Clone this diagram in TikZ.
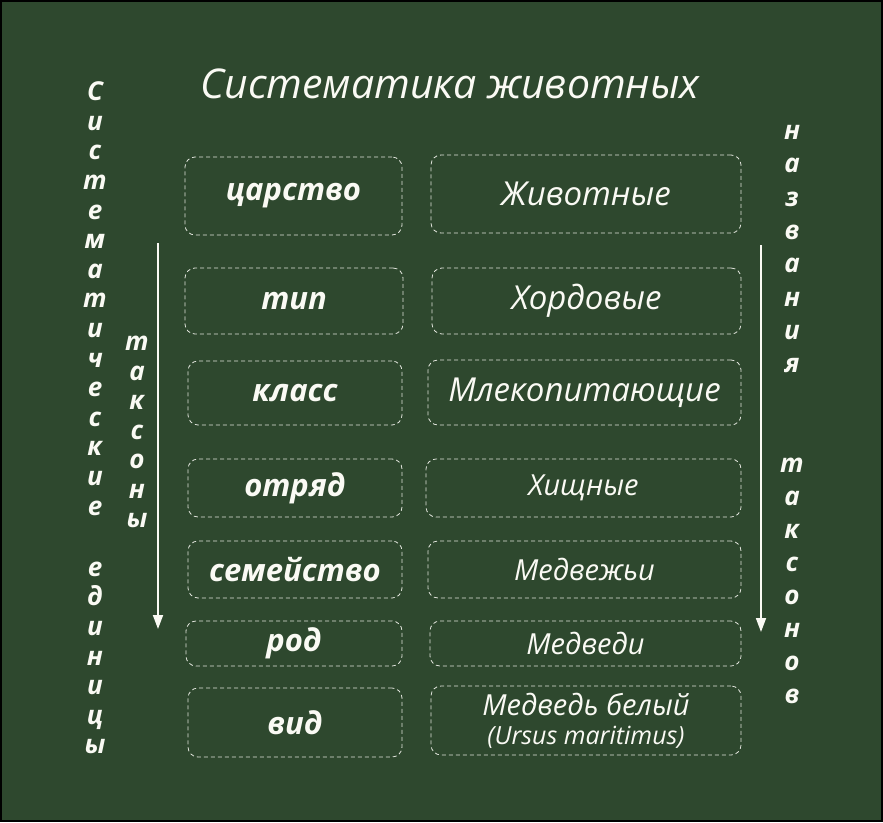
\documentclass[tikz,border=0pt]{standalone}
\usepackage{fontspec}
\setmainfont{Open Sans}
\usetikzlibrary{arrows.meta}
\definecolor{board}{RGB}{46,72,46}
\definecolor{chalk}{RGB}{250,250,244}
\definecolor{dashc}{RGB}{225,228,220}
\begin{document}
\begin{tikzpicture}[x=1pt,y=-1pt,
  vlet/.style={text=chalk, font=\fontsize{26}{30}\selectfont\bfseries\itshape, inner sep=0pt, text height=0.53em, text depth=0pt},
  tbox/.style={draw=dashc, dashed, dash pattern=on 4pt off 3pt, rounded corners=10pt, line width=0.8pt, inner sep=0pt, text=chalk, align=center},
  lbox/.style={tbox, font=\fontsize{31}{36}\selectfont\bfseries\itshape},
  rbox/.style={tbox, font=\fontsize{33}{38}\selectfont\itshape},
  rsbox/.style={tbox, font=\fontsize{29}{33}\selectfont\itshape},
  arr/.style={draw=chalk, line width=1.8pt, -{Triangle[width=10pt,length=14pt]}},
  title/.style={text=chalk, font=\fontsize{41}{48}\selectfont\itshape, inner sep=0pt}
]
\fill[black] (0,0) rectangle (883,822);
\fill[board] (2,2) rectangle (881,820);
\useasboundingbox (0,0) rectangle (883,822);

\node[title] (title) at (450,84) {Систематика животных};

% left column
\node[lbox, minimum width=217pt, minimum height=78pt] (k1) at (293.5,196) {царство};
\node[lbox, minimum width=218pt, minimum height=66pt] (k2) at (294,301) {тип};
\node[lbox, minimum width=214pt, minimum height=64pt] (k3) at (295,393) {класс};
\node[lbox, minimum width=214pt, minimum height=58pt] (k4) at (295,488) {отряд};
\node[lbox, minimum width=214pt, minimum height=57pt] (k5) at (295,569.5) {семейство};
\node[lbox, minimum width=216pt, minimum height=45pt] (k6) at (294,643.5) {род};
\node[lbox, minimum width=214pt, minimum height=69pt] (k7) at (295,722.5) {вид};

% right column
\node[rbox, minimum width=310pt, minimum height=78pt] (n1) at (586,194) {Животные};
\node[rbox, minimum width=309pt, minimum height=66pt] (n2) at (586.5,301) {Хордовые};
\node[rbox, minimum width=313pt, minimum height=65pt] (n3) at (584.5,392.5) {Млекопитающие};
\node[rsbox, minimum width=315pt, minimum height=58pt] (n4) at (583.5,488) {Хищные};
\node[rsbox, minimum width=313pt, minimum height=57pt] (n5) at (584.5,569.5) {Медвежьи};
\node[rsbox, minimum width=311pt, minimum height=45pt] (n6) at (585.5,643.5) {Медведи};
\node[rsbox, minimum width=310pt, minimum height=69pt] (n7) at (586,720.5) {Медведь белый\\[-4pt]{\fontsize{25}{28}\selectfont(Ursus maritimus)}};

% vertical words
\foreach \ch [count=\i from 0] in {С,и,с,т,е,м,а,т,и,ч,е,с,к,и,е}
  \node[vlet] (a\i) at (95,{98+\i*29.6}) {\ch};
\foreach \ch [count=\i from 0] in {е,д,и,н,и,ц,ы}
  \node[vlet] (b\i) at (95,{573.6+\i*29.6}) {\ch};
\foreach \ch [count=\i from 0] in {т,а,к,с,о,н,ы}
  \node[vlet] (c\i) at (137,{348+\i*29.5}) {\ch};
\foreach \ch [count=\i from 0] in {н,а,з,в,а,н,и,я}
  \node[vlet] (d\i) at (792,{137+\i*33.3}) {\ch};
\foreach \ch [count=\i from 0] in {т,а,к,с,о,н,о,в}
  \node[vlet] (e\i) at (792,{470+\i*33}) {\ch};

% arrows
\coordinate (la) at (158,243);
\coordinate (lb) at (158,629);
\coordinate (ra) at (761,245);
\coordinate (rb) at (761,632);
\draw[arr] (la) -- (lb);
\draw[arr] (ra) -- (rb);
\end{tikzpicture}
\end{document}
